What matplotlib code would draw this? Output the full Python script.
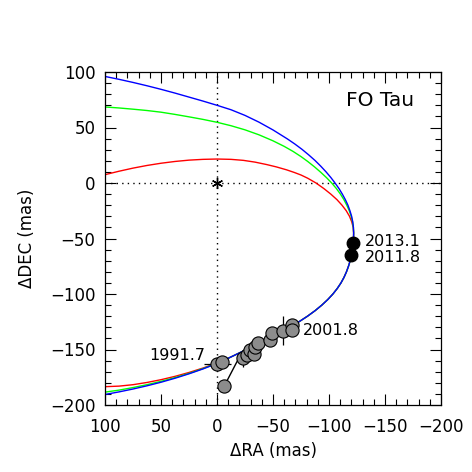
import matplotlib
matplotlib.use("Agg")
import matplotlib.pyplot as plt
from matplotlib.ticker import MultipleLocator

# ---- orbit curves ----
lower_common_ra = [-122.0, -121.9, -121.6, -121.0, -120.1, -118.9, -117.4, -115.6, -113.4, -110.7, -107.4,
                   -103.5, -98.9, -93.6, -87.6, -80.8, -73.2, -64.8, -55.6, -45, -35, -25, -15, -5]
lower_common_dec = [-45, -50, -55, -60, -65, -70, -75, -80, -85, -90, -95,
                    -100, -105, -110, -115, -120, -125, -130, -135, -140.5, -145.6, -150.6, -155.5, -160.3]

blue_up_ra = [100, 87.5, 75, 62.5, 50, 37.5, 25, 12.5, 0, -12.5, -25, -37.5, -50, -62.7, -69.4, -75.8,
              -81.8, -87.4, -92.6, -97.3, -101.6, -105.4, -108.9, -111.9, -114.6, -116.9, -118.7, -120.2, -121.2, -121.8]
blue_up_dec = [96, 93.4, 90.6, 87.6, 84.4, 81, 77.4, 73.8, 70, 66.0, 60.9, 54.8, 47.8, 39.8, 35.2, 30.4,
               25.4, 20.4, 15.2, 10.1, 5, 0, -5, -10, -15, -20, -25, -30, -35, -40]
blue_tail_ra = [0, 12.5, 25, 37.5, 50, 62.5, 75, 87.5, 100]
blue_tail_dec = [-162.6, -167.5, -171.9, -175.9, -179.5, -182.7, -185.6, -188.2, -190.5]

green_up_ra = [100, 87.5, 75, 62.5, 50, 37.5, 25, 12.5, 0, -12.5, -25, -37.5, -50, -60, -68, -75,
               -81, -87.1, -92.7, -97.8, -102.4, -106.6, -110.2, -113.3, -115.9, -118.1, -119.8, -121.0, -121.76]
green_up_dec = [68.5, 67.6, 66.5, 65.3, 63.8, 61.8, 59.6, 57.3, 54.7, 51.6, 47.9, 43.4, 38.0, 33.0, 28.4, 23.8,
                19.4, 14.5, 9.6, 4.8, 0, -5, -10, -15, -20, -25, -30, -35, -40]
green_tail_ra = [0, 12.5, 25, 37.5, 50, 62.5, 75, 87.5, 100]
green_tail_dec = [-162.4, -167.2, -171.5, -175.3, -178.7, -181.7, -184.3, -186.6, -188.4]

red_up_ra = [100, 87.5, 75, 62.5, 50, 37.5, 25, 12.5, 0, -12.5, -23.5, -34, -44.4, -53, -62, -69, -75,
             -81, -88.4, -95.4, -101.6, -107.1, -111.6, -115.4, -118.3, -120.3, -121.6]
red_up_dec = [7.5, 10.6, 13.4, 15.8, 17.8, 19.4, 20.6, 21.3, 21.6, 21.3, 20.4, 18.8, 16.6, 14.5, 11.9, 9.5, 7.2,
              4.3, 0, -5, -10, -15, -20, -25, -30, -35, -40]
red_tail_ra = [0, 12.5, 25, 37.5, 50, 62.5, 75, 87.5, 100]
red_tail_dec = [-162.1, -166.7, -170.7, -174.2, -177.2, -179.7, -181.7, -183.0, -183.5]

# ---- observations ----
obs_ra = [-0.3, -4.2, -6.5, -23.5, -26.5, -29.5, -32.6, -33.9, -36.9, -47.3, -48.8, -58.7, -66.7, -66.7]
obs_dec = [-163.1, -161.0, -182.9, -157.9, -155.0, -150.5, -154.0, -147.5, -144.4, -141.4, -135.4, -133.1, -128.0, -132.4]
obs_ra_err = [12, 0, 0, 0, 0, 0, 5, 0, 0, 0, 0, 0, 0, 0]
obs_dec_err = [0, 0, 0, 7.5, 0, 0, 0, 0, 6, 0, 0, 13, 0, 0]

resid_ra = [-6.5, -20.5]
resid_dec = [-182.9, -155.8]

new_ra = [-121.7, -119.4]
new_dec = [-54.0, -64.6]
new_labels = ["2013.1", "2011.8"]


def full_curve(up_ra, up_dec, tail_ra, tail_dec):
    xs = list(up_ra) + list(lower_common_ra) + list(tail_ra)
    ys = list(up_dec) + list(lower_common_dec) + list(tail_dec)
    return xs, ys


fig = plt.figure(figsize=(4.72, 4.72), dpi=100)
ax = fig.add_axes([105/472, 1 - 405/472, 336/472, 333/472])

ax.plot([0, 0], [-200, 100], color="black", lw=1.0, ls=(0, (1, 3)), zorder=1)
ax.plot([100, -200], [0, 0], color="black", lw=1.0, ls=(0, (1, 3)), zorder=1)

for up_ra, up_dec, t_ra, t_dec, col in [
        (red_up_ra, red_up_dec, red_tail_ra, red_tail_dec, "#ff0000"),
        (green_up_ra, green_up_dec, green_tail_ra, green_tail_dec, "#00ff00"),
        (blue_up_ra, blue_up_dec, blue_tail_ra, blue_tail_dec, "#0000ff")]:
    xs, ys = full_curve(up_ra, up_dec, t_ra, t_dec)
    ax.plot(xs, ys, color=col, lw=1.0, zorder=2, solid_joinstyle="round")

ax.plot([0], [0], marker=(6, 2, 0), color="black", markersize=8, mew=1.0, zorder=3)

ax.plot(resid_ra, resid_dec, color="black", lw=1.0, zorder=3)
ax.errorbar(obs_ra, obs_dec, xerr=obs_ra_err, yerr=obs_dec_err, fmt="none",
            ecolor="black", elinewidth=0.9, capsize=0, zorder=3)
ax.plot(obs_ra, obs_dec, "o", markersize=9.5, markerfacecolor="#8c8c8c",
        markeredgecolor="black", markeredgewidth=0.8, ls="none", zorder=4)
ax.plot(new_ra, new_dec, "o", markersize=9, color="black", ls="none", zorder=5)

ax.text(-132, -53, new_labels[0], fontsize=11.5, va="center", ha="left")
ax.text(-132, -67, new_labels[1], fontsize=11.5, va="center", ha="left")
ax.text(-76.8, -133, "2001.8", fontsize=11.5, va="center", ha="left")
ax.text(10.7, -155.4, "1991.7", fontsize=11.5, va="center", ha="right")
ax.text(-145.5, 74, "FO Tau", fontsize=14.5, va="center", ha="center")

ax.set_xlim(100, -200)
ax.set_ylim(-200, 100)
ax.xaxis.set_major_locator(MultipleLocator(50))
ax.xaxis.set_minor_locator(MultipleLocator(10))
ax.yaxis.set_major_locator(MultipleLocator(50))
ax.yaxis.set_minor_locator(MultipleLocator(10))
ax.tick_params(which="both", direction="in", top=True, right=True, labelsize=12, width=0.8)
ax.tick_params(which="major", length=8)
ax.tick_params(axis="x", which="major", pad=9)
ax.tick_params(axis="y", which="major", pad=7)
ax.tick_params(which="minor", length=4)
for s in ax.spines.values():
    s.set_linewidth(0.9)

ax.set_xlabel("\u0394RA (mas)", fontsize=12, labelpad=5)
ax.set_ylabel("\u0394DEC (mas)", fontsize=12, labelpad=10)

fig.savefig("out.png", dpi=100)
